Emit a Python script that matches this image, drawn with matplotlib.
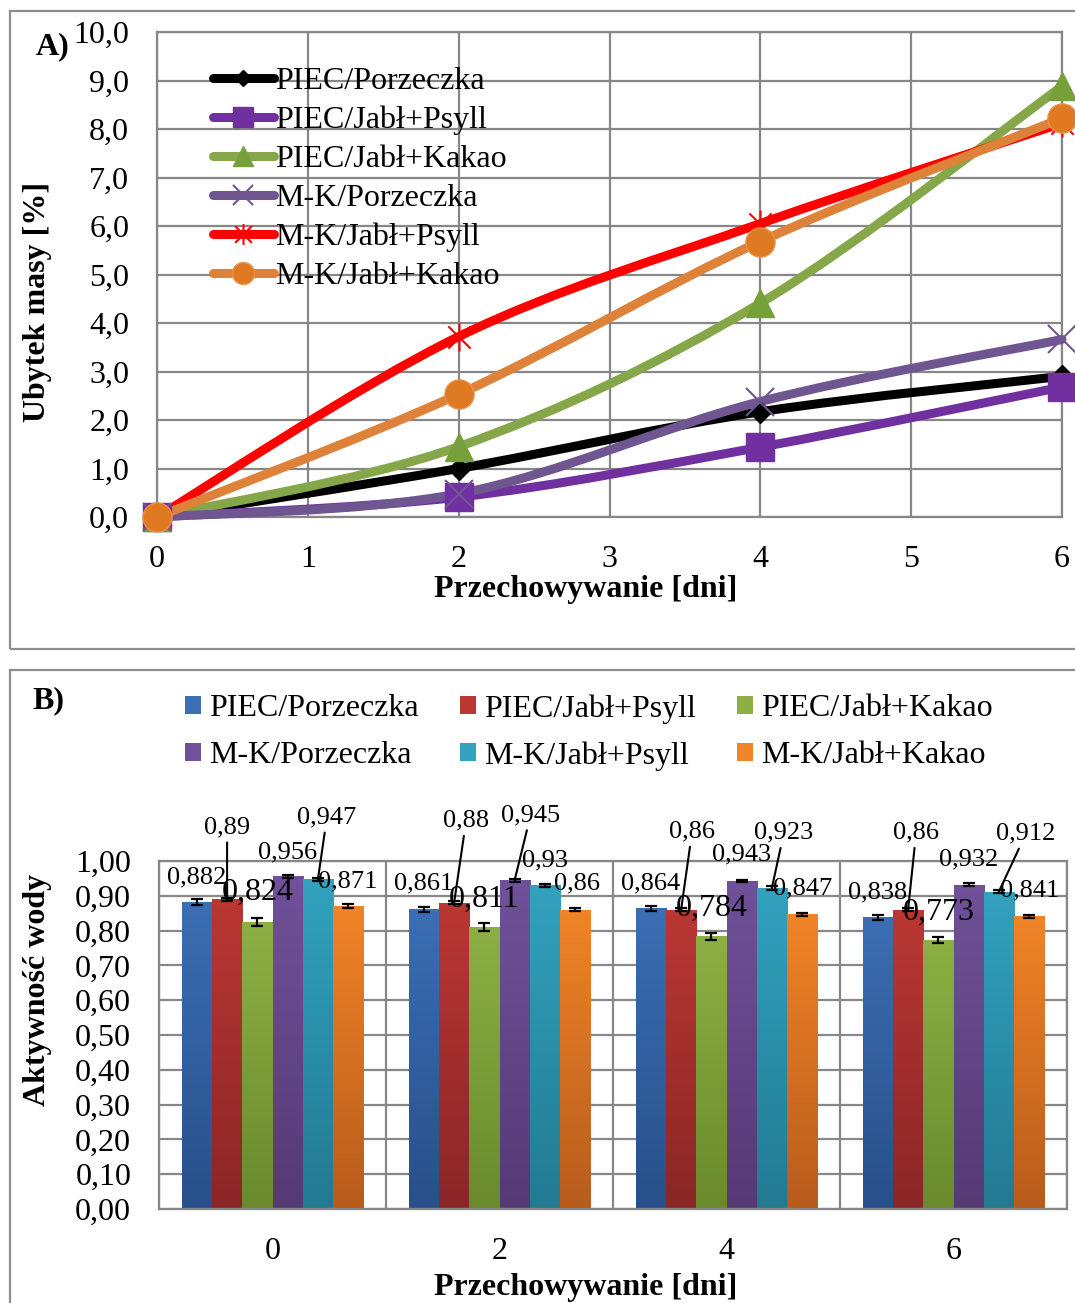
import numpy as np
import matplotlib
matplotlib.use("Agg")
import matplotlib.pyplot as plt
from matplotlib.path import Path
from matplotlib.patches import PathPatch, Rectangle
from matplotlib.lines import Line2D
from matplotlib.colors import LinearSegmentedColormap
from matplotlib.ticker import FuncFormatter, MultipleLocator

plt.rcParams["font.family"] = ["Liberation Serif", "DejaVu Serif"]

# ---------------------------------------------------------------- data
days = [0, 2, 4, 6]
series_names = ["PIEC/Porzeczka", "PIEC/Jabł+Psyll", "PIEC/Jabł+Kakao",
                "M-K/Porzeczka", "M-K/Jabł+Psyll", "M-K/Jabł+Kakao"]

# A) mass loss [%]
loss_piec_porzeczka = [0.0, 1.00, 2.17, 2.90]
loss_piec_psyll = [0.0, 0.41, 1.44, 2.68]
loss_piec_kakao = [0.0, 1.45, 4.41, 8.88]
loss_mk_porzeczka = [0.0, 0.48, 2.38, 3.66]
loss_mk_psyll = [0.0, 3.72, 6.05, 8.12]
loss_mk_kakao = [0.0, 2.53, 5.68, 8.22]

# B) water activity
aw_piec_porzeczka = [0.882, 0.861, 0.864, 0.838]
aw_piec_psyll = [0.89, 0.88, 0.86, 0.86]
aw_piec_kakao = [0.824, 0.811, 0.784, 0.773]
aw_mk_porzeczka = [0.956, 0.945, 0.943, 0.932]
aw_mk_psyll = [0.947, 0.93, 0.923, 0.912]
aw_mk_kakao = [0.871, 0.86, 0.847, 0.841]

sd_piec_porzeczka = [0.008, 0.007, 0.007, 0.007]
sd_piec_psyll = [0.005, 0.004, 0.005, 0.005]
sd_piec_kakao = [0.012, 0.011, 0.010, 0.010]
sd_mk_porzeczka = [0.004, 0.004, 0.003, 0.004]
sd_mk_psyll = [0.005, 0.004, 0.005, 0.004]
sd_mk_kakao = [0.005, 0.004, 0.005, 0.005]

day_labels = ["0", "2", "4", "6"]

# ---------------------------------------------------------------- styles
W, H = 1075, 1303
GRID = "#878787"
FS = 23

line_styles = [
    dict(color="#000000", marker="D", ms=11, mfc="#000000", mec="#000000", mew=1),
    dict(color="#7030A0", marker="s", ms=20, mfc="#7030A0", mec="#7030A0", mew=1),
    dict(color="#86A64A", marker="^", ms=20, mfc="#76A03A", mec="#76A03A", mew=1),
    dict(color="#6F5690", marker="x", ms=20, mfc="none", mec="#6F5690", mew=1.5),
    dict(color="#FF0000", marker="asterisk", ms=20, mfc="none", mec="#FF0000", mew=1.5),
    dict(color="#DE8139", marker="o", ms=21, mfc="#E07A22", mec="#E8914A", mew=1),
]

bar_top = ["#3B6EB3", "#BA3733", "#8CB044", "#70519A", "#32A2BF", "#F08427"]
bar_bottom = ["#28508A", "#8A2626", "#6A8A2C", "#553A75", "#227A91", "#B85C1C"]

# data-label offsets in pixels (dx, dy from bar top), one row per day
label_offsets = [
    [(0, 25), (0, 72), (0, 30), (0, 24), (9, 62), (0, 24)],
    [(0, 26), (12, 82), (0, 27), (16, 65), (0, 25), (2, 26)],
    [(0, 25), (11, 78), (0, 28), (0, 26), (12, 55), (0, 26)],
    [(0, 25), (8, 77), (0, 28), (0, 25), (27, 58), (0, 26)],
]
label_leader = [
    [False, True, False, False, True, False],
    [False, True, False, True, False, False],
    [False, True, False, False, True, False],
    [False, True, False, False, True, False],
]


def fx(px):
    return px / W


def fy(py):
    return 1 - py / H


def comma(fmt):
    return FuncFormatter(lambda v, p: format(v, fmt).replace(".", ","))


def smooth_path(xs, ys):
    """Cubic Bezier path through the points (spreadsheet-style smoothing)."""
    pts = np.column_stack([xs, ys]).astype(float)
    n = len(pts)
    verts = [pts[0]]
    codes = [Path.MOVETO]
    for i in range(n - 1):
        p_prev = pts[max(i - 1, 0)]
        p0, p1 = pts[i], pts[i + 1]
        p_next = pts[min(i + 2, n - 1)]
        c1 = p0 + (p1 - p_prev) / 6.0
        c2 = p1 - (p_next - p0) / 6.0
        verts += [c1, c2, p1]
        codes += [Path.CURVE4] * 3
    return Path(np.array(verts), codes)


asterisk = Path([(-1, -1), (1, 1), (-1, 1), (1, -1), (0, -1.25), (0, 1.25)],
                [Path.MOVETO, Path.LINETO, Path.MOVETO, Path.LINETO,
                 Path.MOVETO, Path.LINETO])


def marker_of(st):
    return asterisk if st["marker"] == "asterisk" else st["marker"]


fig = plt.figure(figsize=(W / 100, H / 100), dpi=100)

# panel frames
for y0, y1 in [(11, 649), (670, 1340)]:
    fig.patches.append(Rectangle((fx(10), fy(y1)), fx(1200), fy(y0) - fy(y1),
                                 transform=fig.transFigure, fill=False,
                                 edgecolor="#8C8C8C", lw=1.6, zorder=0))

# ---------------------------------------------------------------- panel A
axA = fig.add_axes([fx(157), fy(517), fx(1062) - fx(157), fy(32) - fy(517)])
loss_series = [loss_piec_porzeczka, loss_piec_psyll, loss_piec_kakao,
               loss_mk_porzeczka, loss_mk_psyll, loss_mk_kakao]

axA.set_xlim(0, 6)
axA.set_ylim(0, 10)
axA.xaxis.set_major_locator(MultipleLocator(1))
axA.yaxis.set_major_locator(MultipleLocator(1))
axA.yaxis.set_major_formatter(comma(".1f"))
axA.grid(True, color=GRID, lw=1.6)
axA.set_axisbelow(True)
for s in axA.spines.values():
    s.set_color(GRID)
    s.set_linewidth(1.6)
axA.tick_params(length=0, labelsize=FS, pad=20)

handles = []
for vals, st, name in zip(loss_series, line_styles, series_names):
    path = smooth_path(days, vals)
    axA.add_patch(PathPatch(path, fill=False, edgecolor=st["color"], lw=6.5,
                            capstyle="round", joinstyle="round",
                            clip_on=False, zorder=3))
    axA.plot(days, vals, linestyle="none", marker=marker_of(st), ms=st["ms"],
             mfc=st["mfc"], mec=st["mec"], mew=st["mew"], clip_on=False,
             zorder=4)
    handles.append(Line2D([], [], color=st["color"], lw=6.5,
                          solid_capstyle="round", marker=marker_of(st),
                          ms=st["ms"] * 0.75, mfc=st["mfc"], mec=st["mec"],
                          mew=st["mew"], label=name))

legA = axA.legend(handles=handles, loc="upper left", frameon=False,
                  fontsize=FS, handlelength=1.9, handletextpad=0.05,
                  labelspacing=0.3, borderpad=0, borderaxespad=0,
                  bbox_to_anchor=(fx(213), fy(67)),
                  bbox_transform=fig.transFigure)
legA.set_zorder(6)

fig.text(fx(53), fy(47), "A)", fontsize=FS, fontweight="bold",
         ha="center", va="center")
fig.text(fx(586), fy(590), "Przechowywanie [dni]", fontsize=FS,
         fontweight="bold", ha="center", va="center")
fig.text(fx(38), fy(302), "Ubytek masy [%]", fontsize=FS, fontweight="bold",
         ha="center", va="center", rotation=90)

# ---------------------------------------------------------------- panel B
axB = fig.add_axes([fx(159), fy(1209), fx(1067) - fx(159), fy(861) - fy(1209)])
aw_series = [aw_piec_porzeczka, aw_piec_psyll, aw_piec_kakao,
             aw_mk_porzeczka, aw_mk_psyll, aw_mk_kakao]
sd_series = [sd_piec_porzeczka, sd_piec_psyll, sd_piec_kakao,
             sd_mk_porzeczka, sd_mk_psyll, sd_mk_kakao]

x = np.arange(len(days))
n = len(aw_series)
bw = 0.8 / n
for k, (vals, sds) in enumerate(zip(aw_series, sd_series)):
    pos = x - 0.4 + bw * (k + 0.5)
    bars = axB.bar(pos, vals, width=bw, color=bar_top[k], lw=0, zorder=2)
    cmap = LinearSegmentedColormap.from_list("g%d" % k,
                                             [bar_bottom[k], bar_top[k]])
    grad = np.linspace(0, 1, 128).reshape(-1, 1)
    for b in bars:
        im = axB.imshow(grad, cmap=cmap, origin="lower", aspect="auto",
                        extent=(b.get_x(), b.get_x() + b.get_width(),
                                0, b.get_height()), zorder=2.5)
        im.set_clip_path(b)
    axB.errorbar(pos, vals, yerr=sds, fmt="none", ecolor="black",
                 elinewidth=1.6, capsize=4.5, capthick=1.6, zorder=4)
    for g, (px, v) in enumerate(zip(pos, vals)):
        dx, dy = label_offsets[g][k]
        txt = format(v, "g").replace(".", ",")
        size = 23 if k == 2 else 19
        kw = {}
        if label_leader[g][k]:
            kw["arrowprops"] = dict(arrowstyle="-", color="black", lw=1.5,
                                    shrinkA=1, shrinkB=0)
        axB.annotate(txt, xy=(px, v), xytext=(dx, dy),
                     textcoords="offset pixels", ha="center", va="center",
                     fontsize=size, zorder=5, annotation_clip=False, **kw)

axB.set_xlim(-0.5, len(days) - 0.5)
axB.set_ylim(0, 1.0)
axB.yaxis.set_major_locator(MultipleLocator(0.1))
axB.yaxis.set_major_formatter(comma(".2f"))
axB.set_xticks(x)
axB.set_xticklabels(day_labels)
axB.set_xticks(np.arange(len(days) + 1) - 0.5, minor=True)
axB.grid(True, axis="y", which="major", color=GRID, lw=1.6)
axB.grid(True, axis="x", which="minor", color=GRID, lw=1.6)
axB.set_axisbelow(True)
for s in axB.spines.values():
    s.set_color(GRID)
    s.set_linewidth(1.6)
axB.tick_params(which="both", length=0, labelsize=FS, pad=20)

# legend laid out row by row: three entries per row
bar_handles = [Rectangle((0, 0), 1, 1, facecolor=bar_top[k], lw=0)
               for k in range(n)]
order = [0, 3, 1, 4, 2, 5]
fig.legend([bar_handles[i] for i in order], [series_names[i] for i in order],
           loc="upper left", ncol=3,
           frameon=False, fontsize=FS, handlelength=0.5, handleheight=0.5,
           handletextpad=0.25, columnspacing=1.3, labelspacing=0.55,
           borderpad=0, borderaxespad=0,
           bbox_to_anchor=(fx(185), fy(694)))

fig.text(fx(48), fy(701), "B)", fontsize=FS, fontweight="bold",
         ha="center", va="center")
fig.text(fx(586), fy(1287), "Przechowywanie [dni]", fontsize=FS,
         fontweight="bold", ha="center", va="center")
fig.text(fx(38), fy(990), "Aktywność wody", fontsize=FS, fontweight="bold",
         ha="center", va="center", rotation=90)

fig.savefig("out.png", dpi=100)
